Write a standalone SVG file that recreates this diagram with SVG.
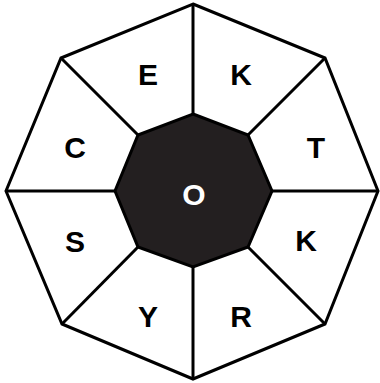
<svg xmlns="http://www.w3.org/2000/svg" width="380" height="383" viewBox="0 0 380 383">
<style>
.ln{stroke:#000;stroke-width:3;fill:none;stroke-linejoin:miter}
.lbl{font-family:"Liberation Sans",Arial,sans-serif;font-weight:bold;font-size:30px;text-anchor:middle;fill:#000}
</style>
<rect width="380" height="383" fill="#fff"/>
<g id="outer">
<polygon class="ln" points="193,4 325,58 378,191 325,324 193,379 62,324 6,191 61,58"/>
</g>
<g id="connectors">
<line class="ln" x1="193" y1="4" x2="193" y2="114"/>
<line class="ln" x1="325" y1="58" x2="248" y2="135"/>
<line class="ln" x1="378" y1="191" x2="272" y2="191"/>
<line class="ln" x1="325" y1="324" x2="248" y2="247"/>
<line class="ln" x1="193" y1="379" x2="193" y2="267"/>
<line class="ln" x1="62" y1="324" x2="138" y2="247"/>
<line class="ln" x1="6" y1="191" x2="115" y2="191"/>
<line class="ln" x1="61" y1="58" x2="138" y2="135"/>
</g>
<g id="center">
<polygon points="193,114 248,135 272,191 248,247 193,267 138,247 115,191 138,135" fill="#231f20" stroke="#000" stroke-width="3"/>
<text x="194" y="205" class="lbl" style="fill:#fff">O</text>
</g>
<g id="s-E"><text x="148" y="85" class="lbl">E</text></g>
<g id="s-K1"><text x="241" y="85" class="lbl">K</text></g>
<g id="s-T"><text x="316" y="158" class="lbl">T</text></g>
<g id="s-K2"><text x="306" y="251" class="lbl">K</text></g>
<g id="s-R"><text x="241" y="327" class="lbl">R</text></g>
<g id="s-Y"><text x="148" y="327" class="lbl">Y</text></g>
<g id="s-S"><text x="75" y="252" class="lbl">S</text></g>
<g id="s-C"><text x="75" y="158" class="lbl">C</text></g>
</svg>
